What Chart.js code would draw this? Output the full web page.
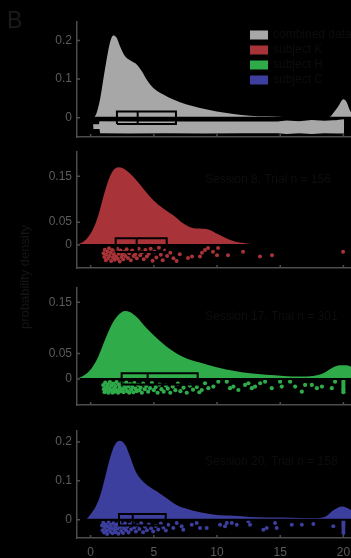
<!DOCTYPE html>
<html><head><meta charset="utf-8">
<script src="https://cdn.jsdelivr.net/npm/chart.js@4.4.1/dist/chart.umd.min.js"></script>
<style>
html,body{margin:0;padding:0;background:#000;width:351px;height:558px;overflow:hidden;}
canvas{position:absolute;left:0;top:0;}
</style></head><body>
<canvas id="c1" width="351" height="558"></canvas>
<canvas id="c2" width="351" height="558"></canvas>
<canvas id="c3" width="351" height="558"></canvas>
<canvas id="c4" width="351" height="558"></canvas>
<script>
// ---------------- data ----------------
const xTicks = [0, 5, 10, 15, 20];
const xTickLabels = ['0', '5', '10', '15', '20'];
const yTicks1 = [0, 0.1, 0.2];
const yTicks2 = [0, 0.05, 0.15];
const yTicks3 = [0, 0.05, 0.15];
const yTicks4 = [0, 0.1, 0.2];
const yTickLabels1 = ['0', '0.1', '0.2'];
const yTickLabels2 = ['0', '0.05', '0.15'];
const yTickLabels3 = ['0', '0.05', '0.15'];
const yTickLabels4 = ['0', '0.1', '0.2'];
const seriesNames = ['combined data', 'subject K', 'subject H', 'subject C'];
const annotations = ['', 'Session 8, Trial n = 156', 'Session 17, Trial n = 301', 'Session 20, Trial n = 158'];
const yAxisTitle = 'probability density';
const panelLetter = 'B';

// density curves
const densX1 = [0.29,0.47,0.74,1.0,1.27,1.53,1.79,2.06,2.32,2.72,3.25,3.64,4.04,4.43,4.96,5.75,6.54,7.6,8.65,9.97,11.3,12.6,13.9,15.25,16.6,17.9,18.9,19.2,19.6,20.0,20.26,20.5,20.8];
const densY1 = [0,0.012,0.047,0.099,0.152,0.195,0.213,0.207,0.185,0.159,0.146,0.138,0.121,0.099,0.077,0.060,0.047,0.034,0.025,0.016,0.0095,0.0052,0.0035,0.0017,0.001,0.001,0.002,0.012,0.03,0.048,0.04,0.02,0.005];
const densX2 = [-0.98,-0.58,-0.18,0.21,0.61,1.0,1.4,1.79,2.19,2.59,3.11,3.64,4.17,4.96,5.75,6.54,7.34,8.0,8.65,9.31,9.97,10.77,11.56,12.35,13.8];
const densY2 = [0.002,0.007,0.018,0.036,0.065,0.105,0.141,0.163,0.170,0.167,0.156,0.141,0.123,0.098,0.08,0.065,0.047,0.038,0.036,0.034,0.025,0.0145,0.0065,0.0036,0];
const densX3 = [-0.98,-0.45,0.08,0.61,1.13,1.66,2.19,2.72,3.11,3.64,4.43,5.22,6.02,6.8,7.6,8.65,9.97,11.3,12.6,13.9,15.25,16.6,17.6,18.4,19.2,19.7,20.26,20.6];
const densY3 = [0.0013,0.008,0.021,0.044,0.076,0.106,0.125,0.133,0.131,0.121,0.099,0.08,0.063,0.05,0.04,0.032,0.023,0.016,0.011,0.008,0.006,0.0046,0.006,0.011,0.023,0.027,0.027,0.024];
const densX4 = [-0.37,-0.05,0.34,0.74,1.13,1.53,1.93,2.32,2.72,3.11,3.51,3.9,4.43,5.22,6.02,6.8,7.6,8.65,9.97,11.3,12.6,15.25,17.9,18.6,19.2,19.9,20.26,20.6];
const densY4 = [0,0.012,0.03,0.06,0.107,0.158,0.193,0.203,0.193,0.163,0.128,0.107,0.09,0.073,0.055,0.038,0.028,0.019,0.012,0.01,0.007,0.0056,0.004,0.008,0.024,0.034,0.031,0.025];

// box plots: q1, median, q3, half height
const boxQ1 = [2.08, 1.98, 2.45, 2.24];
const boxMedian = [3.72, 3.64, 4.51, 3.33];
const boxQ3 = [6.75, 6.02, 8.47, 5.94];
const boxHalf = [0.016, 0.015, 0.011, 0.015];

// combined-data jitter cloud (dense band)
const bandX = [0.2, 0.7, 0.75, 3, 6, 9, 12, 14.8, 15.5, 16.5, 17.5, 18.5, 19.5, 20.05];
const bandTop = [-0.019, -0.019, -0.011, -0.012, -0.012, -0.012, -0.012, -0.012, -0.009, -0.011, -0.008, -0.010, -0.008, -0.006];
const bandBottom = [-0.029, -0.029, -0.040, -0.041, -0.040, -0.041, -0.040, -0.040, -0.042, -0.040, -0.042, -0.040, -0.041, -0.041];

// subject jitter points [x, y]
const pointsK = [[1.02,-0.018],[1.08,-0.026],[1.12,-0.010],[1.2,-0.033],[1.25,-0.021],[1.33,-0.014],[1.38,-0.029],[1.45,-0.007],[1.5,-0.024],[1.58,-0.017],[1.62,-0.035],[1.7,-0.011],[1.76,-0.027],[1.83,-0.02],[1.9,-0.032],[1.96,-0.013],[2.02,-0.025],[2.1,-0.008],[2.15,-0.03],[2.22,-0.019],[2.3,-0.036],[2.36,-0.012],[2.44,-0.026],[2.5,-0.021],[2.58,-0.031],[2.66,-0.015],[2.75,-0.024],[2.85,-0.009],[2.95,-0.028],[3.05,-0.018],[3.18,-0.033],[3.28,-0.012],[3.4,-0.024],[3.52,-0.02],[3.65,-0.029],[3.8,-0.008],[3.92,-0.022],[4.05,-0.016],[4.2,-0.031],[4.33,-0.011],[4.45,-0.025],[4.6,-0.019],[4.75,-0.008],[4.9,-0.034],[5.05,-0.014],[5.2,-0.027],[5.4,-0.006],[5.55,-0.021],[5.7,-0.033],[5.9,-0.012],[6.05,-0.024],[6.3,-0.017],[6.55,-0.029],[6.8,-0.035],[7.05,-0.02],[7.7,-0.028],[8.02,-0.025],[8.65,-0.025],[8.81,-0.017],[9.05,-0.011],[9.29,-0.0065],[9.68,-0.0146],[10.0,-0.022],[10.08,-0.0065],[10.87,-0.022],[12.06,-0.0146],[13.4,-0.025],[14.35,-0.022],[19.97,-0.0146]];
const pointsH = [[1.0,-0.012],[1.05,-0.02],[1.1,-0.026],[1.15,-0.007],[1.22,-0.016],[1.28,-0.023],[1.35,-0.011],[1.4,-0.027],[1.47,-0.018],[1.52,-0.006],[1.6,-0.022],[1.65,-0.013],[1.72,-0.027],[1.78,-0.009],[1.85,-0.019],[1.9,-0.025],[1.97,-0.014],[2.05,-0.006],[2.1,-0.022],[2.17,-0.027],[2.25,-0.011],[2.3,-0.017],[2.38,-0.024],[2.45,-0.008],[2.52,-0.02],[2.6,-0.026],[2.67,-0.013],[2.75,-0.019],[2.82,-0.007],[2.9,-0.024],[2.98,-0.015],[3.05,-0.027],[3.12,-0.01],[3.2,-0.021],[3.3,-0.016],[3.38,-0.026],[3.46,-0.008],[3.55,-0.019],[3.65,-0.024],[3.75,-0.012],[3.85,-0.022],[3.95,-0.017],[4.05,-0.027],[4.15,-0.009],[4.28,-0.02],[4.4,-0.014],[4.55,-0.025],[4.7,-0.018],[4.85,-0.008],[5.0,-0.022],[5.15,-0.016],[5.3,-0.027],[5.45,-0.011],[5.6,-0.02],[5.78,-0.025],[5.95,-0.013],[6.1,-0.019],[6.3,-0.027],[6.5,-0.015],[6.7,-0.022],[6.9,-0.009],[7.1,-0.024],[7.35,-0.017],[7.6,-0.027],[7.85,-0.013],[8.1,-0.021],[8.4,-0.016],[8.6,-0.026],[8.79,-0.0216],[9.05,-0.0084],[9.31,-0.018],[9.71,-0.015],[10.1,-0.0053],[10.77,-0.0053],[11.03,-0.018],[11.29,-0.015],[11.69,-0.0216],[12.22,-0.0118],[12.48,-0.0084],[12.75,-0.018],[13.01,-0.015],[13.41,-0.0084],[13.8,-0.0053],[14.33,-0.018],[14.99,-0.0053],[15.12,-0.015],[15.78,-0.0053],[16.18,-0.015],[16.71,-0.025],[16.97,-0.0118],[17.5,-0.0118],[17.9,-0.018],[18.3,-0.015],[19.08,-0.018],[19.34,-0.0053],[20,-0.002],[20,-0.006],[20,-0.010],[20,-0.014],[20,-0.018],[20,-0.022],[20,-0.026]];
const pointsC = [[0.9,-0.015],[0.95,-0.027],[1.0,-0.008],[1.06,-0.033],[1.12,-0.02],[1.18,-0.012],[1.25,-0.028],[1.3,-0.037],[1.36,-0.017],[1.42,-0.006],[1.48,-0.024],[1.55,-0.031],[1.6,-0.013],[1.67,-0.021],[1.73,-0.035],[1.8,-0.009],[1.86,-0.026],[1.93,-0.017],[2.0,-0.032],[2.06,-0.012],[2.13,-0.023],[2.2,-0.036],[2.27,-0.007],[2.34,-0.019],[2.41,-0.029],[2.48,-0.014],[2.56,-0.034],[2.64,-0.022],[2.72,-0.01],[2.8,-0.027],[2.9,-0.018],[3.0,-0.033],[3.1,-0.012],[3.2,-0.025],[3.32,-0.008],[3.45,-0.02],[3.58,-0.03],[3.7,-0.015],[3.85,-0.024],[4.0,-0.009],[4.15,-0.032],[4.3,-0.018],[4.45,-0.027],[4.6,-0.012],[4.78,-0.022],[4.95,-0.03],[5.15,-0.016],[5.35,-0.025],[5.55,-0.01],[5.75,-0.02],[5.95,-0.028],[6.14,-0.0129],[6.54,-0.0214],[6.81,-0.0085],[7.2,-0.017],[7.33,-0.0258],[8.0,-0.0129],[8.39,-0.0085],[8.65,-0.0214],[9.18,-0.0214],[10.24,-0.0129],[10.63,-0.017],[10.77,-0.0085],[11.17,-0.0085],[11.56,-0.0129],[12.48,-0.0041],[12.61,-0.0129],[13.67,-0.0258],[13.93,-0.0214],[14.59,-0.0085],[14.72,-0.0214],[15.91,-0.0129],[16.71,-0.0129],[17.62,-0.011],[19.2,-0.017],[20,-0.004],[20,-0.009],[20,-0.014],[20,-0.019],[20,-0.024],[20,-0.029],[20,-0.034]];

// ---------------- styling / layout ----------------
const seriesColors = ['#a7a7a7', '#a83338', '#2fab4a', '#3d3f9f'];
const AXIS = '#4d4d4d', TICKC = '#5c5c5c', DARKTEXT = '#0d0d0d';
const FF = '"Liberation Sans", Arial, Helvetica, sans-serif';
const panelTop = [22, 152, 288, 431];
const panelBottom = [137, 268, 405, 538];
const yMin = [-0.05, -0.05, -0.051, -0.047];
const yMax = [0.248, 0.203, 0.178, 0.228];
const xMin = -1.08, xMax = 20.6;
const XH = 22, YW = 77;

const toXY = (xs, ys) => xs.map((x, i) => ({x, y: ys[i]}));
const toPts = arr => arr.map(p => ({x: p[0], y: p[1]}));

const densities = [toXY(densX1, densY1), toXY(densX2, densY2), toXY(densX3, densY3), toXY(densX4, densY4)];
const yTicksAll = [yTicks1, yTicks2, yTicks3, yTicks4];
const yLabelsAll = [yTickLabels1, yTickLabels2, yTickLabels3, yTickLabels4];
const pointsAll = [null, pointsK, pointsH, pointsC];
const densXAll = [densX1, densX2, densX3, densX4];

const innerTicks = {
  id: 'innerTicks',
  afterDraw(chart) {
    const {ctx, chartArea: a, scales: {x, y}} = chart;
    ctx.save();
    ctx.strokeStyle = AXIS; ctx.lineWidth = 1.5;
    ctx.beginPath();
    x.ticks.forEach(t => { const p = x.getPixelForValue(t.value); ctx.moveTo(p, a.bottom); ctx.lineTo(p, a.bottom - 3); });
    y.ticks.forEach(t => { const p = y.getPixelForValue(t.value); ctx.moveTo(a.left, p); ctx.lineTo(a.left + 3, p); });
    ctx.stroke();
    ctx.restore();
  }
};

function textPlugin(i) {
  return {
    id: 'texts' + i,
    afterDraw(chart) {
      const ctx = chart.ctx, a = chart.chartArea;
      ctx.save();
      ctx.fillStyle = DARKTEXT;
      ctx.font = '12px ' + FF;
      ctx.textBaseline = 'middle';
      ctx.textAlign = 'left';
      if (i === 0) {
        seriesNames.forEach((name, k) => {
          const yy = a.top + 13 + k * 15;
          ctx.fillStyle = seriesColors[k];
          ctx.fillRect(250, yy - 4.5, 18, 9);
          ctx.fillStyle = DARKTEXT;
          ctx.fillText(name, 273, yy);
        });
        ctx.fillStyle = '#1a1a1a';
        ctx.font = '23px ' + FF;
        ctx.textBaseline = 'alphabetic';
        ctx.fillText(panelLetter, 7, 28);
        ctx.save();
        ctx.translate(25, 277);
        ctx.rotate(-Math.PI / 2);
        ctx.textAlign = 'center';
        ctx.textBaseline = 'middle';
        ctx.font = '13px ' + FF;
        ctx.fillStyle = '#151515';
        ctx.fillText(yAxisTitle, 0, 0);
        ctx.restore();
      } else {
        ctx.fillText(annotations[i], 205, a.top + [0, 28, 29, 31][i]);
      }
      ctx.restore();
    }
  };
}

function makeChart(i) {
  const color = seriesColors[i];
  const datasets = [];
  datasets.push({data: densities[i], showLine: true, fill: 'origin', backgroundColor: color,
    borderWidth: 0, borderColor: color, pointRadius: 0, cubicInterpolationMode: 'monotone', order: 10});
  if (i === 0) {
    datasets.push({data: toXY(bandX, bandBottom), showLine: true, fill: false, borderWidth: 0, borderColor: color, pointRadius: 0, order: 8});
    datasets.push({data: toXY(bandX, bandTop), showLine: true, fill: '-1', backgroundColor: color, borderWidth: 1.5, borderColor: color, pointRadius: 0, order: 7});
  } else {
    datasets.push({data: toPts(pointsAll[i]), showLine: false, backgroundColor: color, borderWidth: 0, pointRadius: i === 2 ? 2.1 : 2, order: 7});
  }
  const dx = densXAll[i];
  datasets.push({data: [{x: dx[0], y: 0}, {x: dx[dx.length - 1], y: 0}], showLine: true, fill: false,
    borderColor: '#000', borderWidth: 2, pointRadius: 0, order: 3});
  const q1 = boxQ1[i], q3 = boxQ3[i], h = boxHalf[i], m = boxMedian[i];
  datasets.push({data: [{x: q1, y: -h}, {x: q3, y: -h}, {x: q3, y: h}, {x: q1, y: h}, {x: q1, y: -h}],
    showLine: true, fill: false, borderColor: '#000', borderWidth: 2, pointRadius: 0, order: 1});
  datasets.push({data: [{x: m, y: -h}, {x: m, y: h}], showLine: true, fill: false,
    borderColor: '#000', borderWidth: 2, pointRadius: 0, order: 1});

  const yT = yTicksAll[i], yL = yLabelsAll[i];
  return new Chart(document.getElementById('c' + (i + 1)), {
    type: 'scatter',
    data: {datasets},
    options: {
      responsive: false, animation: false, devicePixelRatio: 1,
      layout: {autoPadding: false, padding: {top: panelTop[i], bottom: 558 - panelBottom[i] - XH, left: 0, right: 0}},
      plugins: {legend: {display: false}, tooltip: {enabled: false}},
      elements: {line: {tension: 0}},
      scales: {
        x: {
          type: 'linear', min: xMin, max: xMax,
          afterBuildTicks: s => { s.ticks = xTicks.map(v => ({value: v})); },
          afterFit: s => { s.height = XH; s.paddingLeft = 0; s.paddingRight = 0; },
          grid: {display: false, drawTicks: false},
          border: {display: true, color: AXIS, width: 1.5},
          ticks: {display: i === 3, autoSkip: false, maxRotation: 0, padding: 7, color: TICKC,
            font: {family: FF, size: 12}, callback: (v, idx) => xTickLabels[idx]}
        },
        y: {
          type: 'linear', min: yMin[i], max: yMax[i],
          afterBuildTicks: s => { s.ticks = yT.map(v => ({value: v})); },
          afterFit: s => { s.width = YW; s.paddingTop = 0; s.paddingBottom = 0; },
          grid: {display: false, drawTicks: false},
          border: {display: true, color: AXIS, width: 1.5},
          ticks: {autoSkip: false, padding: 5, color: TICKC, font: {family: FF, size: 12},
            callback: (v, idx) => yL[idx]}
        }
      }
    },
    plugins: [innerTicks, textPlugin(i)]
  });
}

for (let i = 0; i < 4; i++) makeChart(i);
</script>
</body></html>
